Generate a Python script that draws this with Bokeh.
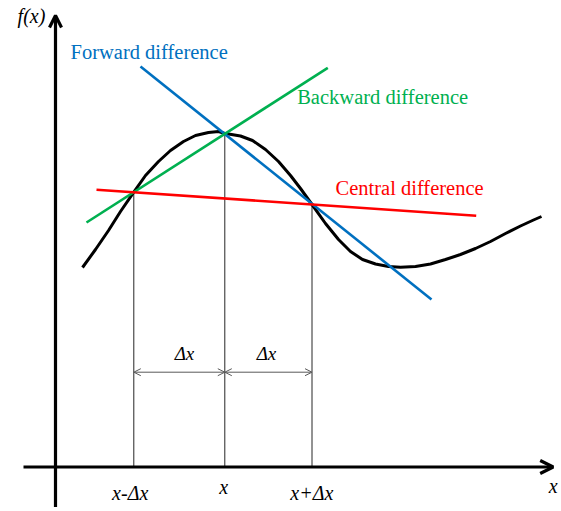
from bokeh.plotting import figure
from bokeh.models import Range1d, Arrow, OpenHead, ColumnDataSource
from bokeh.core.properties import value
from bokeh.embed import file_html
from bokeh.resources import INLINE

# ---- data (diagram units: origin at the axes crossing) ----
curve_x = [27, 40, 53, 65, 78.3, 90, 103, 115, 128, 140, 153, 163, 169.3, 173, 185, 197,
           210, 223, 235, 245, 256.5, 270, 283, 295, 307, 320, 333, 345, 360, 375,
           390, 405, 420, 435, 450, 465, 478, 486]
curve_y = [199.5, 217.5, 236.5, 255.5, 274.8, 291.5, 305.5, 316.5, 325.5, 331.5, 334.5,
           335.5, 333.5, 333.0, 331.0, 326.5, 317.5, 305.5, 291.5, 278.5, 262.5, 243.5,
           227.5, 215.5, 207.5, 203.0, 200.5, 199.8, 200.5, 203.0, 207.5, 212.5, 218.5,
           225.5, 233.5, 241.0, 247.0, 250.5]

line_names = ["Forward difference", "Backward difference", "Central difference"]
line_x0 = [85.0, 31.0, 41.0]
line_y0 = [400.5, 244.5, 277.3]
line_x1 = [376.0, 272.3, 420.7]
line_y1 = [167.5, 399.2, 251.3]
line_colors = ["#0070C0", "#00B050", "#FF0000"]
name_x = [15.0, 241.7, 280.0]
name_y = [415.2, 370.3, 279.0]

tick_x = [78.3, 169.3, 256.5]
tick_f = [274.8, 333.5, 262.5]
tick_labels = ["x-Δx", "x", "x+Δx"]
tick_label_x = [74.7, 168.3, 256.3]
tick_label_y = [-26.0, -20.0, -26.0]

dx_labels = ["Δx", "Δx"]
dx_label_x = [129.0, 211.0]
dx_label_y = [113.2, 113.2]
dx_arrow_y = 94.8

xaxis_span = [-32.0, 497.7]
yaxis_span = [-40.0, 451.5]

SERIF = value("Liberation Serif")

p = figure(width=561, height=511, x_range=Range1d(-55, 506), y_range=Range1d(-44.5, 466.5),
           output_backend="svg", toolbar_location=None, min_border=0,
           x_axis_type=None, y_axis_type=None, outline_line_color=None,
           background_fill_color="white", border_fill_color="white")
p.grid.visible = False

# vertical guide lines
p.segment(x0=tick_x, y0=[0, 0, 0], x1=tick_x, y1=tick_f, line_color="#262626", line_width=1)

# delta-x double arrows
for i in range(2):
    p.add_layout(Arrow(x_start=tick_x[i], y_start=dx_arrow_y, x_end=tick_x[i + 1], y_end=dx_arrow_y,
                       line_color="#595959", line_width=1,
                       start=OpenHead(size=7, line_color="#595959", line_width=1),
                       end=OpenHead(size=7, line_color="#595959", line_width=1)))

# curve
p.line(curve_x, curve_y, line_color="black", line_width=3, line_join="round")

# difference lines
src = ColumnDataSource(dict(x0=line_x0, y0=line_y0, x1=line_x1, y1=line_y1, c=line_colors,
                            name=line_names, nx=name_x, ny=name_y))
p.segment(x0="x0", y0="y0", x1="x1", y1="y1", line_color="c", line_width=2.6, source=src)
p.text(x="nx", y="ny", text="name", text_color="c", text_font=SERIF,
       text_font_size="20.5px", text_baseline="alphabetic", text_align="left", source=src)

# axes
p.add_layout(Arrow(x_start=xaxis_span[0], y_start=0, x_end=xaxis_span[1], y_end=0,
                   line_color="black", line_width=3.2,
                   end=OpenHead(size=13, line_color="black", line_width=3.2)))
p.add_layout(Arrow(x_start=0, y_start=yaxis_span[0], x_end=0, y_end=yaxis_span[1],
                   line_color="black", line_width=3.2,
                   end=OpenHead(size=12, line_color="black", line_width=3.2)))

# labels
p.text(x=tick_label_x, y=tick_label_y, text=tick_labels, text_font=SERIF, text_font_style="italic",
       text_font_size="20px", text_align="center", text_baseline="alphabetic", text_color="black")
p.text(x=dx_label_x, y=dx_label_y, text=dx_labels, text_font=SERIF, text_font_style="italic",
       text_font_size="19px", text_align="center", text_baseline="alphabetic", text_color="black")
p.text(x=[-24.0], y=[451.5], text=["f(x)"], text_font=SERIF, text_font_style="italic",
       text_font_size="20px", text_align="center", text_baseline="alphabetic", text_color="black")
p.text(x=[497.7], y=[-18.5], text=["x"], text_font=SERIF, text_font_style="italic",
       text_font_size="20px", text_align="center", text_baseline="alphabetic", text_color="black")

open("out.html", "w").write(file_html(p, INLINE))
